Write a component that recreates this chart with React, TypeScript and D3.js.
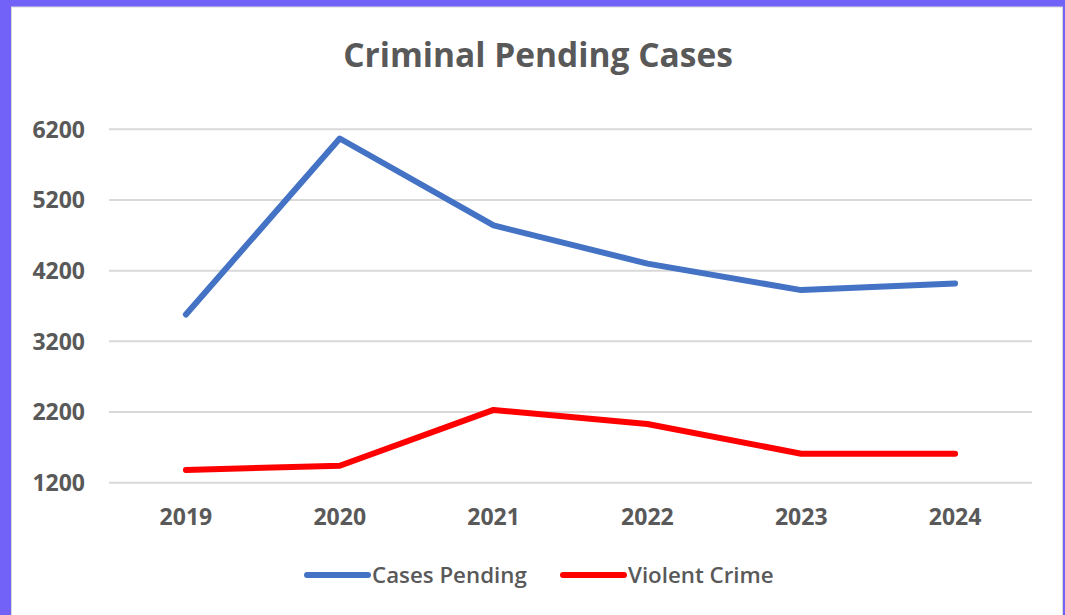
import React, { useEffect, useRef } from "react";
import * as d3 from "d3";

const years = ["2019", "2020", "2021", "2022", "2023", "2024"];
const casesPending = [3580, 6070, 4840, 4300, 3925, 4020];
const violentCrime = [1380, 1440, 2230, 2030, 1610, 1610];
const yTicks = [1200, 2200, 3200, 4200, 5200, 6200];
const seriesNames = ["Cases Pending", "Violent Crime"];
const seriesColors = ["#4472C4", "#FF0000"];

const W = 1065;
const H = 615;
const FONT = "'Open Sans', sans-serif";

const App = () => {
  const svgRef = useRef<SVGSVGElement>(null);

  useEffect(() => {
    const svg = d3.select(svgRef.current);
    svg.selectAll("*").remove();

    // purple frame + white chart panel
    svg.append("rect").attr("width", W).attr("height", H).attr("fill", "#7262F7");
    svg
      .append("rect")
      .attr("x", 11.5)
      .attr("y", 7)
      .attr("width", 1051)
      .attr("height", 620)
      .attr("fill", "#fff")
      .attr("stroke", "#d9d9d9")
      .attr("stroke-width", 1);

    const x = d3.scalePoint<string>().domain(years).range([109, 1032]).padding(0.5);
    const y = d3.scaleLinear().domain([1200, 6200]).range([482.7, 129.3]);

    // gridlines
    svg
      .append("g")
      .selectAll("line")
      .data(yTicks)
      .join("line")
      .attr("x1", 109)
      .attr("x2", 1032)
      .attr("y1", (d) => y(d))
      .attr("y2", (d) => y(d))
      .attr("stroke", "#d9d9d9")
      .attr("stroke-width", 2);

    // y labels
    svg
      .append("g")
      .selectAll("text")
      .data(yTicks)
      .join("text")
      .attr("x", 85)
      .attr("y", (d) => y(d))
      .attr("dy", "0.36em")
      .attr("text-anchor", "end")
      .attr("font-family", FONT)
      .attr("font-weight", 700)
      .attr("font-size", 23)
      .attr("fill", "#595959")
      .text((d) => d);

    // x labels
    svg
      .append("g")
      .selectAll("text")
      .data(years)
      .join("text")
      .attr("x", (d) => x(d)!)
      .attr("y", 517)
      .attr("dy", "0.36em")
      .attr("text-anchor", "middle")
      .attr("font-family", FONT)
      .attr("font-weight", 700)
      .attr("font-size", 23)
      .attr("fill", "#595959")
      .text((d) => d);

    // title
    svg
      .append("text")
      .attr("x", 538)
      .attr("y", 55)
      .attr("dy", "0.36em")
      .attr("text-anchor", "middle")
      .attr("font-family", FONT)
      .attr("font-weight", 700)
      .attr("font-size", 33.5)
      .attr("fill", "#595959")
      .text("Criminal Pending Cases");

    const line = d3
      .line<number>()
      .x((d, i) => x(years[i])!)
      .y((d) => y(d));

    svg
      .selectAll(".series")
      .data([casesPending, violentCrime])
      .join("path")
      .attr("class", "series")
      .attr("d", (d) => line(d))
      .attr("fill", "none")
      .attr("stroke", (d, i) => seriesColors[i])
      .attr("stroke-width", 6)
      .attr("stroke-linecap", "round")
      .attr("stroke-linejoin", "round");

    // legend
    const legendX = [307, 563];
    const lg = svg
      .append("g")
      .selectAll("g")
      .data(seriesNames)
      .join("g")
      .attr("transform", (d, i) => `translate(${legendX[i]},575)`);
    lg.append("line")
      .attr("x1", 0)
      .attr("x2", 61)
      .attr("stroke", (d, i) => seriesColors[i])
      .attr("stroke-width", 6)
      .attr("stroke-linecap", "round");
    lg.append("text")
      .attr("x", 65)
      .attr("dy", "0.36em")
      .attr("font-family", FONT)
      .attr("font-weight", 600)
      .attr("font-size", 22.3)
      .attr("fill", "#595959")
      .text((d) => d);
  }, []);

  return (
    <svg
      ref={svgRef}
      width={W}
      height={H}
      style={{ position: "absolute", left: 0, top: 0 }}
    />
  );
};

export default App;
